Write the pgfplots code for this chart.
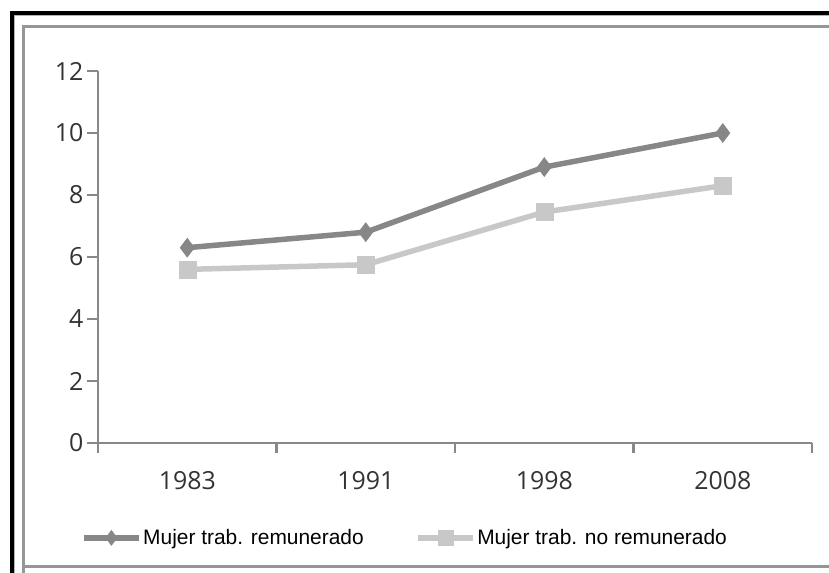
\documentclass[border=0pt]{standalone}
\usepackage{pgfplots}
\pgfplotsset{compat=1.18}
\usepackage{fontspec}
\setmainfont{Liberation Sans}
\newfontfamily\tickfont{Open Sans}
\definecolor{darkser}{RGB}{135,135,135}
\definecolor{lightser}{RGB}{200,200,200}
\definecolor{axgray}{RGB}{136,136,136}
\definecolor{framegray}{RGB}{150,150,150}
\begin{document}
\begin{tikzpicture}[x=1bp,y=1bp]
\useasboundingbox (0,0) rectangle (829,573);
% frame
\draw[black,line width=4bp] (11.5,-20) -- (11.5,560) -- (860,560);
\draw[gray!60,line width=1bp] (14.4,-20) -- (14.4,557.3) -- (860,557.3);
\draw[framegray,line width=3bp] (23,-20) -- (23,546.5) -- (860,546.5);
\draw[framegray,line width=3bp] (23,6) -- (860,6);
\begin{axis}[
  at={(98bp,130bp)}, anchor=south west,
  scale only axis, width=714bp, height=372bp,
  xmin=-0.5, xmax=3.5, ymin=0, ymax=12,
  axis lines*=left,
  axis line style={axgray,line width=2.5bp},
  clip=false,
  xtick={0,1,2,3},
  xticklabels={1983,1991,1998,2008},
  minor xtick={-0.5,0.5,1.5,2.5,3.5},
  ytick={0,2,4,6,8,10,12},
  tick align=outside,
  major tick length=11bp,
  minor tick length=10bp,
  major x tick style={draw=none},
  minor x tick style={axgray,line width=2.5bp},
  major y tick style={axgray,line width=2.5bp},
  tick label style={font=\tickfont\fontsize{25}{30}\selectfont, text=black!80},
  /pgf/number format/assume math mode=true,
  xticklabel style={yshift=-14bp},
  legend style={
    at={(-0.028,-0.255)}, anchor=west,
    draw=none, fill=none,
    font=\fontsize{21}{25}\selectfont,
    nodes={inner sep=1.5bp},
    /tikz/every even column/.append style={column sep=50bp},
  },
  legend columns=2,
  legend image code/.code={%
    \draw[#1,mark repeat=2,mark phase=2,mark size=7.5bp] plot coordinates {(0bp,0bp)(27.5bp,0bp)(55bp,0bp)};},
]
\addplot[darkser,line width=5.5bp,mark=diamond*,mark size=9.5bp,mark options={fill=darkser,draw=darkser,line width=0.5bp}]
  coordinates {(0,6.3)(1,6.8)(2,8.9)(3,10.0)};
\addlegendentry{Mujer trab. remunerado}
\addplot[lightser,line width=5.5bp,mark=square*,mark size=8.5bp,mark options={fill=lightser,draw=lightser,line width=0.5bp}]
  coordinates {(0,5.6)(1,5.75)(2,7.45)(3,8.3)};
\addlegendentry{Mujer trab. no remunerado}
\end{axis}
\end{tikzpicture}
\end{document}
